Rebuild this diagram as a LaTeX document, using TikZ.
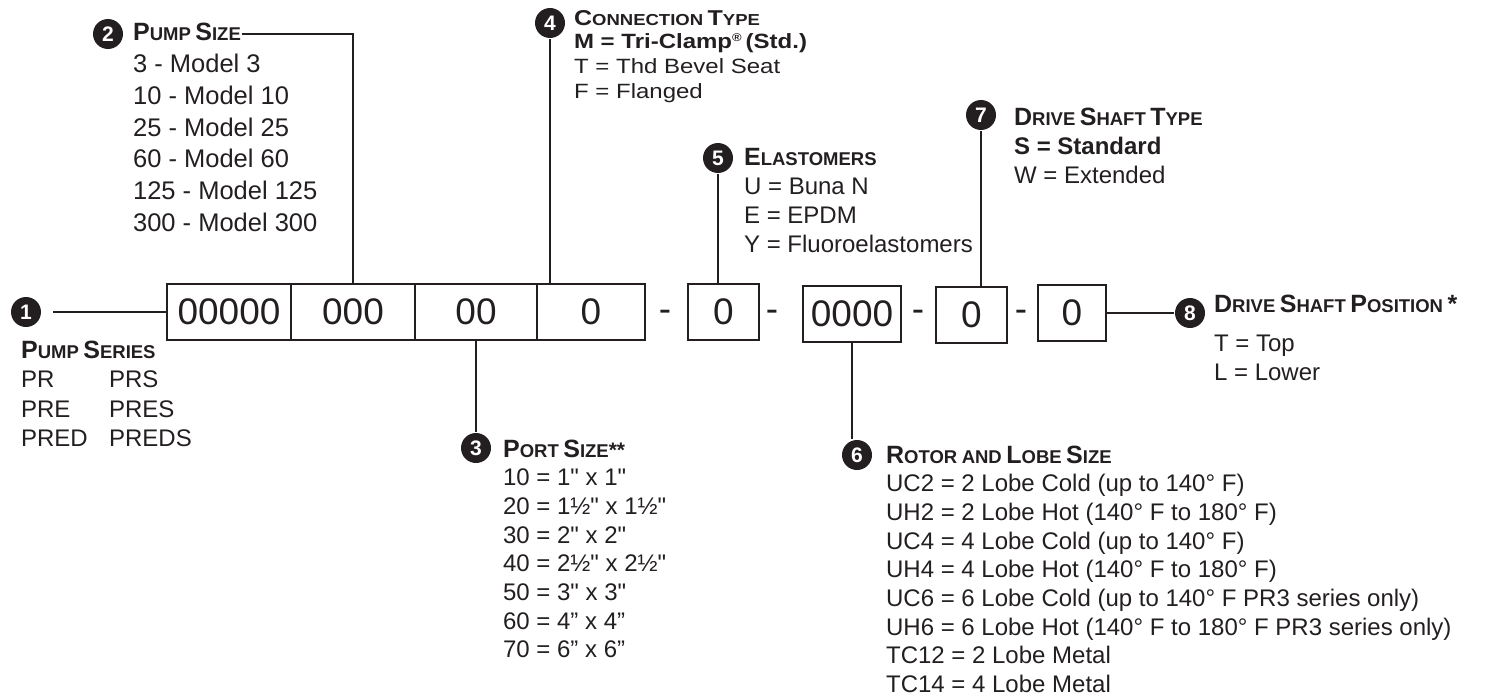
\documentclass[tikz,border=0pt]{standalone}
\usepackage{fontspec}
\newfontfamily\arial{Liberation Sans}
\definecolor{ink}{HTML}{231F20}
\newcommand{\capsw}[2]{{\fontsize{25}{25}\selectfont #1}{\fontsize{18.5}{18.5}\selectfont #2}}
\newcommand{\wgap}{\hspace{0.45em}}
\newcommand{\squish}[1]{\scalebox{1}[0.86]{#1}}

\begin{document}
\begin{tikzpicture}[x=1pt, y=-1pt, ink, line width=2.2pt,
    every node/.style={inner sep=0pt, text=ink},
    entry/.style={anchor=base west, font=\arial\fontsize{24}{28}\selectfont},
    heading/.style={anchor=base west, font=\arial\bfseries},
    badge/.style={circle, fill=ink, minimum size=30pt, text=white, font=\arial\bfseries\fontsize{21}{21}\selectfont},
    digitbox/.style={draw, line width=2.4pt, minimum height=56pt, font=\arial\fontsize{37}{37}\selectfont},
    minusmark/.style={anchor=base, font=\arial\fontsize{37}{37}\selectfont}]
    \useasboundingbox (0,0) rectangle (1506,698);
    \def\rowgap {28.7}

    % the code boxes
    \node[digitbox, minimum width=124pt] (seg1) at (229,312) {00000};
    \node[digitbox, minimum width=124pt] (seg2) at (353,312) {000};
    \node[digitbox, minimum width=122pt] (seg3) at (476,312) {00};
    \node[digitbox, minimum width=108pt] (seg4) at (591,312) {0};
    \node[digitbox, minimum width=71pt] (box5) at (723.5,312) {0};
    \node[digitbox, minimum width=98pt] (box6) at (852,314) {0000};
    \node[digitbox, minimum width=71pt] (box7) at (971.5,315) {0};
    \node[digitbox, minimum width=68pt] (box8) at (1072,313) {0};
    \foreach \x [count=\i] in {665,772,918,1021}
        \node[minusmark] (minus\i) at (\x,321) {-};

    % 1 pump series
    \node[badge] (n1) at (26,312) {1};
    \draw[shorten <=11pt] (n1) -- (seg1.west);
    \node[heading] (t1) at (20,358) {\capsw{P}{UMP}\wgap\capsw{S}{ERIES}};
    \foreach \a/\b [count=\i] in {PR/PRS, PRE/PRES, PRED/PREDS}
    {
        \node[entry] (series\i) at (20,358+29.5*\i) {\a};
        \node[entry] (seriesb\i) at (108,358+29.5*\i) {\b};
    }

    % 2 pump size
    \node[badge] (n2) at (108,34) {2};
    \node[heading] (t2) at (132,41) {\capsw{P}{UMP}\wgap\capsw{S}{IZE}};
    \foreach \txt [count=\i] in {3 - Model 3, 10 - Model 10, 25 - Model 25, 60 - Model 60, 125 - Model 125, 300 - Model 300}
        \node[entry, font=\arial\fontsize{25.5}{30}\selectfont] (size\i) at (132,41+31.7*\i) {\txt};
    \draw (t2.east |- n2) -| (seg2.north);

    % 3 port size
    \node[badge] (n3) at (476,448) {3};
    \node[heading] (t3) at (502,457) {\capsw{P}{ORT}\wgap\capsw{S}{IZE}{\fontsize{21}{21}\selectfont **}};
    \foreach \txt [count=\i] in {10 = 1" x 1", 20 = 1½" x 1½", 30 = 2" x 2", 40 = 2½" x 2½", 50 = 3" x 3", 60 = 4” x 4”, 70 = 6” x 6”}
        \node[entry] (port\i) at (502,457+\rowgap*\i) {\txt};
    \draw (seg3.south) -- (n3);

    % 4 connection type
    \node[badge] (n4) at (550,23) {4};
    \node[heading] (t4) at (573,26) {\squish{\capsw{C}{ONNECTION}\wgap\capsw{T}{YPE}}};
    \node[entry, font=\arial\bfseries\fontsize{24}{28}\selectfont] (conn1) at (573,49) {\squish{M = Tri-Clamp\raisebox{0.35em}{\fontsize{13}{13}\selectfont ®}\,(Std.)}};
    \node[entry] (conn2) at (573,74) {\squish{T = Thd Bevel Seat}};
    \node[entry] (conn3) at (573,99) {\squish{F = Flanged}};
    \draw (n4) -- (n4 |- seg4.north);

    % 5 elastomers
    \node[badge] (n5) at (718,158) {5};
    \node[heading] (t5) at (743,165) {\capsw{E}{LASTOMERS}};
    \foreach \txt [count=\i] in {U = Buna N, E = EPDM, Y = Fluoroelastomers}
        \node[entry] (elast\i) at (743,165+29*\i) {\txt};
    \draw (n5) -- (n5 |- box5.north);

    % 6 rotor and lobe size
    \node[badge] (n6) at (857,455) {6};
    \node[heading] (t6) at (885,463) {\capsw{R}{OTOR}\wgap\capsw{}{AND}\wgap\capsw{L}{OBE}\wgap\capsw{S}{IZE}};
    \foreach \txt [count=\i] in {UC2 = 2 Lobe Cold (up to 140° F), UH2 = 2 Lobe Hot (140° F to 180° F), UC4 = 4 Lobe Cold (up to 140° F), UH4 = 4 Lobe Hot (140° F to 180° F), UC6 = 6 Lobe Cold (up to 140° F PR3 series only), UH6 = 6 Lobe Hot (140° F to 180° F PR3 series only), TC12 = 2 Lobe Metal, TC14 = 4 Lobe Metal}
        \node[entry] (rotor\i) at (885,463+\rowgap*\i) {\txt};
    \draw (box6.south) -- (box6.south |- n6.north);

    % 7 drive shaft type
    \node[badge] (n7) at (981,115) {7};
    \node[heading] (t7) at (1013,125) {\capsw{D}{RIVE}\wgap\capsw{S}{HAFT}\wgap\capsw{T}{YPE}};
    \node[entry, font=\arial\bfseries\fontsize{24}{28}\selectfont] (type1) at (1013,154) {S = Standard};
    \node[entry] (type2) at (1013,183) {W = Extended};
    \draw (n7) -- (n7 |- box7.north);

    % 8 drive shaft position
    \node[badge] (n8) at (1190,313) {8};
    \node[heading] (t8) at (1213,312) {\capsw{D}{RIVE}\wgap\capsw{S}{HAFT}\wgap\capsw{P}{OSITION}\wgap\capsw{*}{}};
    \node[entry] (pos1) at (1213,351) {T = Top};
    \node[entry] (pos2) at (1213,380) {L = Lower};
    \draw (box8.east) -- (n8);
\end{tikzpicture}
\end{document}
